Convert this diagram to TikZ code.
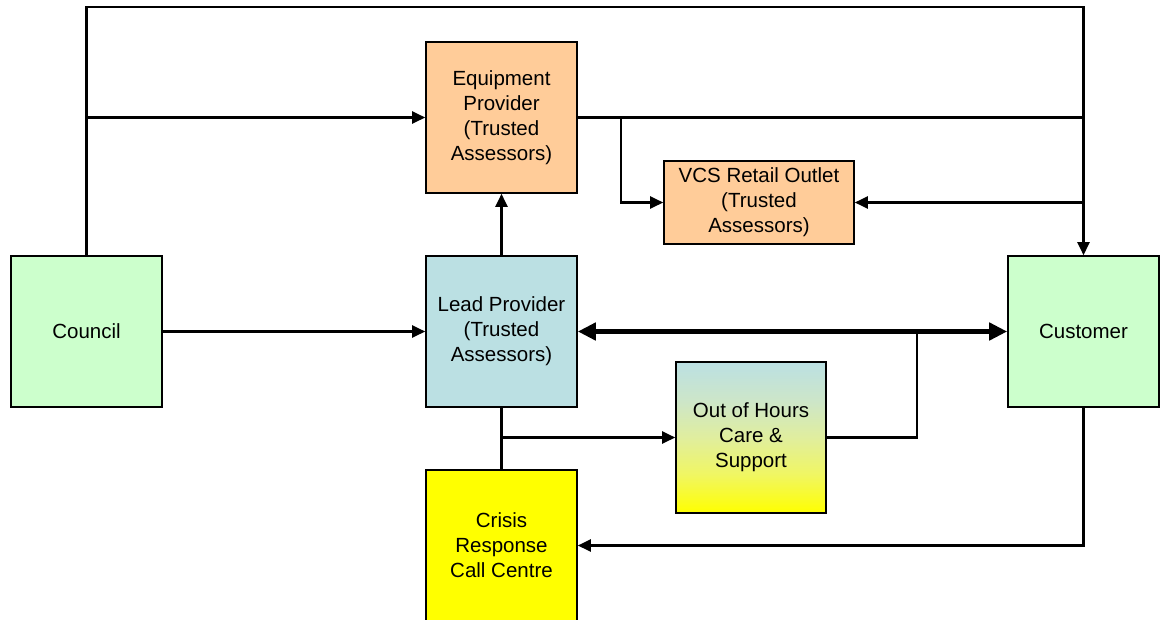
\documentclass[tikz,border=0pt]{standalone}
\usepackage{fontspec}
\setmainfont{Liberation Sans}
\usetikzlibrary{arrows.meta}
\definecolor{pgreen}{RGB}{204,255,204}
\definecolor{porange}{RGB}{255,204,153}
\definecolor{pblue}{RGB}{187,224,227}
\definecolor{pyellow}{RGB}{255,255,0}
\definecolor{gmidA}{RGB}{205,230,200}
\definecolor{gmidB}{RGB}{224,238,158}
\definecolor{gmidC}{RGB}{240,246,100}
\pgfdeclareverticalshading{oohshade}{100bp}{color(0bp)=(pyellow); color(25bp)=(pyellow); color(38bp)=(gmidC); color(50bp)=(gmidB); color(62bp)=(gmidA); color(75bp)=(pblue); color(100bp)=(pblue)}
\tikzset{
  box/.style={draw=black, line width=1.6pt, minimum width=151pt, minimum height=151pt, inner sep=0pt, align=center, font=\fontsize{20.5}{25}\selectfont},
  conn/.style={line width=2.2pt},
  arr/.style={conn, -{Triangle[length=13pt,width=12pt]}},
  bigarr/.style={line width=5pt, {Triangle[length=18pt,width=17pt]}-{Triangle[length=18pt,width=17pt]}}
}
\begin{document}
\begin{tikzpicture}[x=1pt,y=-1pt]
\clip (0,0) rectangle (1164,619);
\fill[white] (0,0) rectangle (1164,619);
\node[box, fill=pgreen] (council) at (86.5,331.5) {Council};
\node[box, fill=porange] (equip) at (501.5,117.5) {Equipment\\Provider\\(Trusted\\Assessors)};
\node[box, fill=porange, minimum width=190pt, minimum height=83pt] (vcs) at (759,202.5) {VCS Retail Outlet\\(Trusted\\Assessors)};
\node[box, fill=pblue] (lead) at (501.5,331.5) {Lead Provider\\(Trusted\\Assessors)};
\node[box, fill=pgreen] (customer) at (1083.5,331.5) {Customer};
\node[box, minimum width=150pt, shading=oohshade] (ooh) at (751,437.5) {Out of Hours\\Care \&\\Support};
\node[box, fill=pyellow] (crisis) at (501.5,545.5) {Crisis\\Response\\Call Centre};
\coordinate (topy) at (500,7);
\coordinate (br) at (621,117.5);
\coordinate (jn) at (917,331.5);
% connectors
\draw[arr] (council.north) |- (topy) -| (customer.north);
\draw[arr] (council.north |- equip.west) -- (equip.west);
\draw[conn] (equip.east) -- (customer.north |- equip.east);
\draw[arr] (br) |- (vcs.west);
\draw[arr] (customer.north |- vcs.east) -- (vcs.east);
\draw[arr] (council.east) -- (lead.west);
\draw[arr] (lead.north) -- (equip.south);
\draw[conn] (ooh.east) -| (jn);
\draw[bigarr] (lead.east) -- (customer.west);
\draw[conn] (lead.south) -- (crisis.north);
\draw[arr] (lead.south |- ooh.west) -- (ooh.west);
\draw[arr] (customer.south) |- (crisis.east);
\end{tikzpicture}
\end{document}
